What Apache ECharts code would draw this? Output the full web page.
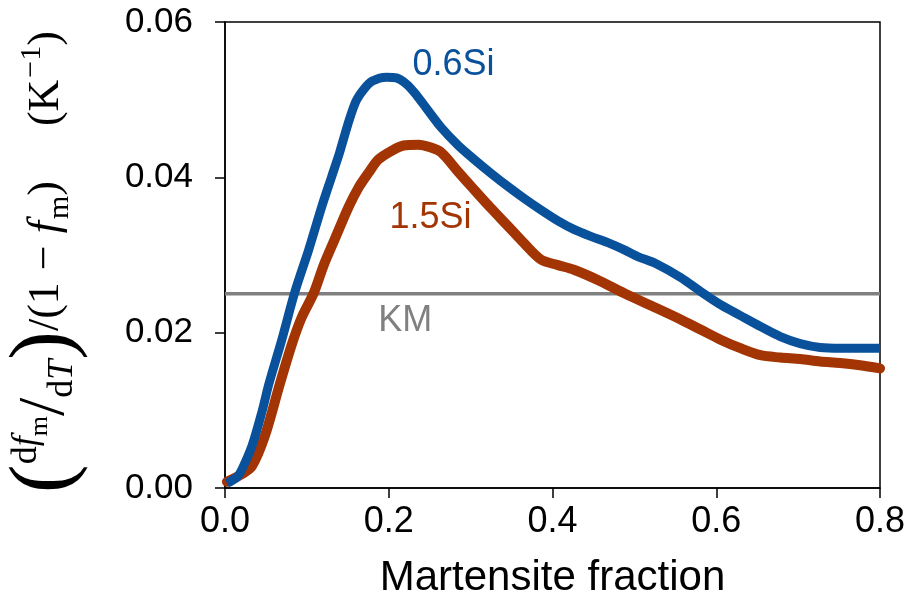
<!DOCTYPE html>
<html>
<head>
<meta charset="utf-8">
<script src="https://cdn.jsdelivr.net/npm/echarts@6/dist/echarts.min.js"></script>
<style>
  html, body { margin: 0; padding: 0; background: #fff; }
  #chart { width: 909px; height: 604px; }
</style>
</head>
<body>
<div id="chart"></div>
<script>
// 0.6Si curve (martensite fraction, rate)
const siLowX = [0.0024, 0.0146, 0.0207, 0.0329, 0.0451, 0.0536, 0.0694, 0.0852, 0.1023, 0.1181,
  0.1303, 0.140, 0.150, 0.160, 0.170, 0.180, 0.1973, 0.2094, 0.2216, 0.2338, 0.246,
  0.2642, 0.2849, 0.3044, 0.3251, 0.3458, 0.3653, 0.386, 0.4067, 0.4262, 0.4469,
  0.4676, 0.4871, 0.5041, 0.526, 0.5565, 0.5808, 0.6052, 0.6295, 0.6539, 0.6782,
  0.7026, 0.727, 0.7513, 0.7757, 0.800];
const siLowY = [0.0006, 0.0014, 0.0024, 0.0054, 0.0098, 0.0134, 0.0191, 0.0252, 0.0307, 0.0362,
  0.0401, 0.0432, 0.0468, 0.0498, 0.0514, 0.0524, 0.0529, 0.0528, 0.0520, 0.0506, 0.0489,
  0.0464, 0.0441, 0.0423, 0.0405, 0.0388, 0.0373, 0.0358, 0.0344, 0.0333, 0.0324,
  0.0316, 0.0307, 0.0298, 0.0289, 0.0271, 0.0253, 0.0236, 0.0222, 0.0208, 0.0195,
  0.0186, 0.0181, 0.0180, 0.0180, 0.0180];

// 1.5Si curve
const siHighX = [0.0024, 0.0207, 0.0329, 0.0487, 0.067, 0.0816, 0.0938, 0.1084, 0.1206, 0.1339,
  0.151, 0.1632, 0.1754, 0.1875, 0.2034, 0.218, 0.2362, 0.2496, 0.2642, 0.2849,
  0.3044, 0.3251, 0.3458, 0.3653, 0.386, 0.4067, 0.4262, 0.4591, 0.4871, 0.520,
  0.5565, 0.5808, 0.6052, 0.6295, 0.6539, 0.6782, 0.7026, 0.727, 0.7513, 0.7757, 0.800];
const siHighY = [0.0008, 0.0018, 0.0028, 0.0067, 0.0134, 0.0185, 0.0220, 0.0251, 0.0287, 0.0320,
  0.0362, 0.0387, 0.0406, 0.0423, 0.0434, 0.0441, 0.0442, 0.0439, 0.0432, 0.0407,
  0.0384, 0.0360, 0.0337, 0.0315, 0.0294, 0.0287, 0.0281, 0.0266, 0.0251, 0.0235,
  0.0217, 0.0204, 0.0191, 0.0180, 0.0171, 0.0168, 0.0166, 0.0163, 0.0161, 0.0158, 0.0154];

// KM reference level
const kmX = [0, 0.8];
const kmY = [0.025, 0.025];

const xTicks = [0, 0.2, 0.4, 0.6, 0.8];
const yTicks = [0, 0.02, 0.04, 0.06];

const BLUE = '#0a519c';
const RED = '#a33403';
const GREY = '#808080';

const chart = echarts.init(document.getElementById('chart'));

const zip = (xs, ys) => xs.map((x, i) => [x, ys[i]]);

const serif = 'Liberation Serif';
const sans = 'Liberation Sans';

// label in the plot, placed in data coordinates
const note = (text, color, coord) => ({
  symbolSize: 0,
  label: { show: true, position: 'inside', fontFamily: sans, fontSize: 36, color: color },
  data: [{ coord: coord, value: text }]
});

const option = {
  animation: false,
  grid: {
    left: 225, right: 29, top: 22, bottom: 115,
    show: true, borderColor: '#000', borderWidth: 1.5
  },
  xAxis: {
    type: 'value',
    min: xTicks[0], max: xTicks[xTicks.length - 1], interval: 0.2,
    name: 'Martensite fraction',
    nameLocation: 'middle',
    nameGap: 69,
    nameTextStyle: { fontFamily: sans, fontSize: 42, color: '#000' },
    axisLine: { lineStyle: { color: '#000', width: 1.5 } },
    axisTick: { length: 10, lineStyle: { color: '#000', width: 1.5 } },
    axisLabel: {
      fontFamily: sans, fontSize: 36, color: '#000', margin: 16,
      formatter: v => v.toFixed(1)
    },
    splitLine: { show: false }
  },
  yAxis: {
    type: 'value',
    min: yTicks[0], max: yTicks[yTicks.length - 1], interval: 0.02,
    axisLine: { show: true, lineStyle: { color: '#000', width: 1.5 } },
    axisTick: { show: true, length: 10, lineStyle: { color: '#000', width: 1.5 } },
    axisLabel: {
      fontFamily: sans, fontSize: 35, color: '#000', margin: 32,
      formatter: v => v.toFixed(2)
    },
    splitLine: { show: false }
  },
  graphic: [{
    type: 'text',
    x: 46, y: 262,
    rotation: Math.PI / 2,
    style: {
      text: '{big|(}{hi|d}{hii|f}{his|m}{sl|/}{lo|d}{loi|T}{big|)}{t|/(1}{op|−}{it|f}{sub|m}{t|)}{gap| }{t|(K}{sup|−1}{t|)}',
      align: 'center',
      verticalAlign: 'middle',
      fill: '#000',
      rich: {
        t: { fontFamily: serif, fontSize: 44, fill: '#000', verticalAlign: 'middle' },
        op: { fontFamily: serif, fontSize: 44, fill: '#000', verticalAlign: 'middle', padding: [0, 12, 0, 12] },
        it: { fontFamily: serif, fontStyle: 'italic', fontSize: 44, fill: '#000', verticalAlign: 'middle', padding: [0, 2, 0, 0] },
        sub: { fontFamily: serif, fontSize: 30, fill: '#000', verticalAlign: 'bottom', padding: [0, 0, 14, 0] },
        sup: { fontFamily: serif, fontSize: 30, fill: '#000', verticalAlign: 'top', padding: [14, 0, 0, 2] },
        gap: { fontFamily: serif, fontSize: 44, verticalAlign: 'middle', padding: [0, 22, 0, 22] },
        big: { fontFamily: serif, fontSize: 86, fill: '#000', verticalAlign: 'middle' },
        hi: { fontFamily: serif, fontSize: 36, fill: '#000', verticalAlign: 'top', padding: [6, 0, 0, 0] },
        hii: { fontFamily: serif, fontStyle: 'italic', fontSize: 36, fill: '#000', verticalAlign: 'top', padding: [6, 0, 0, 0] },
        his: { fontFamily: serif, fontSize: 26, fill: '#000', verticalAlign: 'top', padding: [24, 0, 0, 0] },
        sl: { fontFamily: serif, fontSize: 66, fill: '#000', verticalAlign: 'middle' },
        lo: { fontFamily: serif, fontSize: 36, fill: '#000', verticalAlign: 'bottom', padding: [0, 0, 8, 0] },
        loi: { fontFamily: serif, fontStyle: 'italic', fontSize: 36, fill: '#000', verticalAlign: 'bottom', padding: [0, 0, 8, 0] }
      }
    }
  }],
  series: [
    {
      name: 'KM',
      type: 'line',
      data: zip(kmX, kmY),
      showSymbol: false,
      lineStyle: { color: GREY, width: 3.5 },
      z: 1,
      markPoint: note('KM', GREY, [0.220, 0.0215])
    },
    {
      name: '1.5Si',
      type: 'line',
      data: zip(siHighX, siHighY),
      showSymbol: false,
      smooth: 0.3,
      lineStyle: { color: RED, width: 10, cap: 'round', join: 'round' },
      z: 2,
      markPoint: note('1.5Si', RED, [0.251, 0.0348])
    },
    {
      name: '0.6Si',
      type: 'line',
      data: zip(siLowX, siLowY),
      showSymbol: false,
      smooth: 0.3,
      lineStyle: { color: BLUE, width: 9 },
      z: 3,
      markPoint: note('0.6Si', BLUE, [0.279, 0.0545])
    }
  ]
};

chart.setOption(option);
</script>
</body>
</html>
